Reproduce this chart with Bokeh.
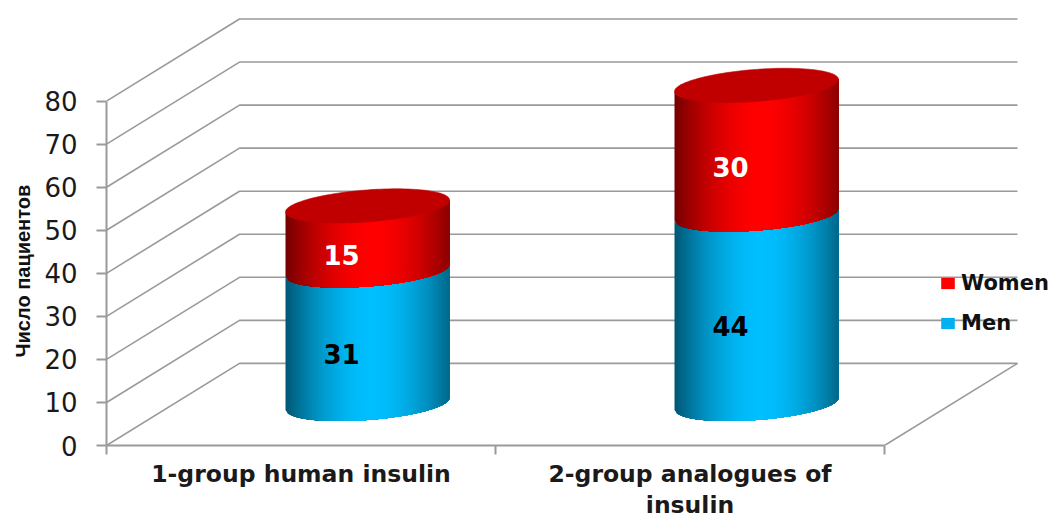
import numpy as np
from bokeh.plotting import figure
from bokeh.models import (Range1d, FixedTicker, LinearAxis, Legend, LegendItem, Title)
from bokeh.core.properties import value
from bokeh.embed import file_html
from bokeh.resources import INLINE

categories = ["1-group human insulin", "2-group analogues of\ninsulin"]
men = [31, 44]
women = [15, 30]
series_names = ["Women", "Men"]
y_ticks = [0, 10, 20, 30, 40, 50, 60, 70, 80]
y_title = "Число пациентов"

W, H = 1052, 521
FONT = "DejaVu Sans"
GRID = "#9a9a9a"
PX_X, PX_Y = 389.0, 4.3          # pixels per data unit
DX, DY = 133 / PX_X, 82 / PX_Y   # depth offset of the back wall
LEFT, BOTTOM = 106, H - 444.5

p = figure(width=W, height=H, output_backend="svg", toolbar_location=None,
           x_range=Range1d(0, (W - LEFT) / PX_X),
           y_range=Range1d(0, (H - BOTTOM) / PX_Y),
           min_border_left=LEFT, min_border_right=0, min_border_top=0,
           min_border_bottom=int(BOTTOM), outline_line_color=None,
           x_axis_type=None, y_axis_type=None, background_fill_color="white")
p.grid.visible = False

# y axis
ya = LinearAxis(ticker=FixedTicker(ticks=y_ticks), bounds=(0, 80))
ya.axis_line_color = GRID; ya.axis_line_width = 2
ya.major_tick_line_color = GRID; ya.major_tick_line_width = 2
ya.major_tick_out = 10; ya.major_tick_in = 0; ya.minor_tick_out = 0; ya.minor_tick_in = 0
ya.major_label_text_font = FONT; ya.major_label_text_font_size = "26px"
ya.major_label_text_color = "#1a1a1a"; ya.major_label_standoff = 19
p.add_layout(ya, "left")

p.add_layout(Title(text=y_title, align="left", offset=88, standoff=16,
                   text_font="Liberation Sans", text_font_style="bold",
                   text_font_size="20px", text_color="#111111"), "left")

# x axis: tick marks
xa = LinearAxis(ticker=FixedTicker(ticks=[0, 1, 2]), bounds=(0, 2))
xa.axis_line_color = GRID; xa.axis_line_width = 2
xa.major_tick_line_color = GRID; xa.major_tick_line_width = 2
xa.major_tick_out = 9; xa.major_tick_in = 0; xa.minor_tick_out = 0; xa.minor_tick_in = 0
xa.major_label_text_font_size = "1px"; xa.major_label_text_color = None
xa.major_label_standoff = 0
p.add_layout(xa, "below")

# category labels: one stacked axis per text line
lines = [c.split("\n") for c in categories]
for row, standoff in enumerate([5, 0]):
    over = {i + 0.5: ls[row] for i, ls in enumerate(lines) if len(ls) > row}
    xl = LinearAxis(ticker=FixedTicker(ticks=list(over)), major_label_overrides=over)
    xl.axis_line_color = None; xl.major_tick_line_color = None; xl.minor_tick_line_color = None
    xl.major_tick_out = 0; xl.major_tick_in = 0; xl.minor_tick_out = 0; xl.minor_tick_in = 0
    xl.major_label_text_font = FONT; xl.major_label_text_font_size = "23.5px"
    xl.major_label_text_font_style = "bold"; xl.major_label_text_color = "#1a1a1a"
    xl.major_label_text_line_height = 1.0
    xl.major_label_standoff = standoff
    p.add_layout(xl, "below")

# walls and floor
for v in y_ticks:
    p.line([0, DX, 2 + DX], [v, v + DY, v + DY], line_color=GRID, line_width=1.6)
p.line([2, 2 + DX], [0, DY], line_color=GRID, line_width=1.6)


def shade(rgb, t):
    f = 1 - 0.55 * min(1.0, abs(t - 0.05) / 1.05) ** 1.8
    return "#%02x%02x%02x" % tuple(int(round(c * f)) for c in rgb)


BLUE, RED, RED_TOP = (0, 191, 255), (255, 0, 0), "#c00000"
A = 82 / PX_X          # cylinder half-width
B = 16 / PX_Y          # ellipse half-height
S = 6 / PX_Y           # ellipse tilt
BASE = 41.5 / PX_Y     # depth of the axis of the cylinder above the front floor
OFF = 261 / PX_X       # cylinder centre from the group start
N = 82


def body(cx, v0, v1, rgb):
    ts = np.linspace(-1, 1, N + 1)
    # painted left to right: every strip runs on to the far edge, so no seams show
    xs, ys, cols = [], [], []
    for t0, t1 in zip(ts[:-1], ts[1:]):
        tt = np.linspace(t0, 1, 60)
        edge = -B * np.sqrt(np.clip(1 - tt ** 2, 0, 1)) + S * tt
        xs.append(np.r_[cx + A * tt, (cx + A * tt)[::-1]].tolist())
        ys.append(np.r_[BASE + v0 + edge, (BASE + v1 + edge)[::-1]].tolist())
        cols.append(shade(rgb, (t0 + t1) / 2))
    p.patches(xs, ys, fill_color=cols, line_color=None)


for i, (m, w) in enumerate(zip(men, women)):
    cx = i + OFF
    body(cx, 0, m, BLUE)
    body(cx, m, m + w, RED)
    th = np.linspace(0, 2 * np.pi, 121)
    p.patch(cx + A * np.cos(th),
            BASE + m + w + B * np.sin(th) + S * np.cos(th),
            fill_color=RED_TOP, line_color=RED_TOP, line_width=0.6)
    lx = cx - 26 / PX_X
    ly = BASE - 17 / PX_Y
    p.text([lx], [ly + m / 2], text=[str(m)], text_align="center", text_baseline="middle",
           text_font=value(FONT), text_font_style="bold", text_font_size="26px",
           text_color="black")
    p.text([lx], [ly + m + w / 2], text=[str(w)], text_align="center", text_baseline="middle",
           text_font=value(FONT), text_font_style="bold", text_font_size="26px",
           text_color="white")

# legend
r_w = p.quad(left=[np.nan], right=[np.nan], top=[np.nan], bottom=[np.nan],
             fill_color="#ff0000", line_color=None)
r_m = p.quad(left=[np.nan], right=[np.nan], top=[np.nan], bottom=[np.nan],
             fill_color="#00b0f0", line_color=None)
leg = Legend(items=[LegendItem(label=series_names[0], renderers=[r_w]),
                    LegendItem(label=series_names[1], renderers=[r_m])],
             location=(833, 110), orientation="vertical", padding=0, margin=0, spacing=16,
             glyph_width=17, glyph_height=14, label_standoff=5,
             background_fill_alpha=0, border_line_color=None,
             label_text_font=FONT, label_text_font_size="21px",
             label_text_font_style="bold", label_text_color="#111111")
p.add_layout(leg)

open("out.html", "w").write(file_html(p, INLINE))
